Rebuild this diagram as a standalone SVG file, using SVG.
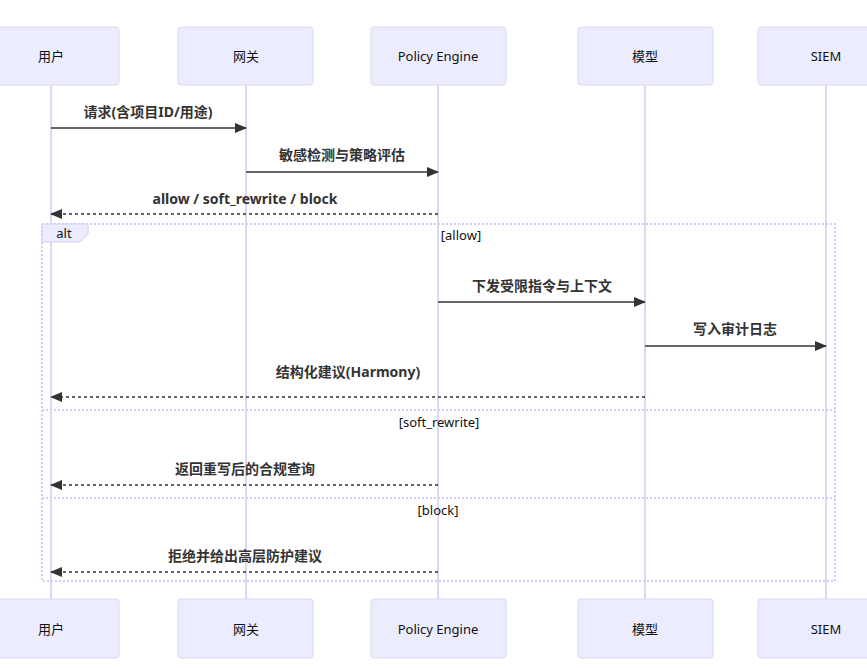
<svg xmlns="http://www.w3.org/2000/svg" width="867" height="668" viewBox="0 0 867 668">
<style>
.actor{fill:#ECECFF;stroke:#ddd7f4;stroke-width:1}
.atext{font-family:"Noto Sans","Noto Sans CJK SC",sans-serif;font-size:13px;fill:#111;text-anchor:middle;dominant-baseline:central}
.life{stroke:#ddd7f4;stroke-width:2}
.msg{stroke:#333;stroke-width:1.5;fill:none}
.dash{stroke-dasharray:3,3}
.mtext{font-family:"Noto Sans","Noto Sans CJK SC",sans-serif;font-size:14px;font-weight:bold;fill:#333;text-anchor:middle}
.loop{fill:none;stroke:#d4ccf2;stroke-width:2;stroke-dasharray:2,2}
.ltext{font-family:"Noto Sans","Noto Sans CJK SC",sans-serif;font-size:13px;fill:#111;text-anchor:middle}
</style>
<defs>
<marker id="arrow" viewBox="0 0 12 10" refX="11" refY="5" markerWidth="12" markerHeight="10" markerUnits="userSpaceOnUse" orient="auto-start-reverse">
<path d="M0,0 L12,5 L0,10 z" fill="#333"/>
</marker>
</defs>
<rect width="867" height="668" fill="#fff"/>
<g id="lifelines">
<line class="life" x1="51" y1="85" x2="51" y2="599"/>
<line class="life" x1="246" y1="85" x2="246" y2="599"/>
<line class="life" x1="438" y1="85" x2="438" y2="599"/>
<line class="life" x1="645" y1="85" x2="645" y2="599"/>
<line class="life" x1="826" y1="85" x2="826" y2="599"/>
</g>
<g id="alt-frame">
<rect class="loop" x="42" y="224" width="793" height="357"/>
<path d="M42,224 L88,224 L88,234 L80,242 L42,242 Z" fill="#ECECFF" stroke="#d4ccf2" stroke-width="1"/>
<text class="ltext" x="64" y="238">alt</text>
<text class="ltext" x="461" y="240">[allow]</text>
<line class="loop" x1="42" y1="410" x2="835" y2="410"/>
<text class="ltext" x="439" y="427">[soft_rewrite]</text>
<line class="loop" x1="42" y1="498" x2="835" y2="498"/>
<text class="ltext" x="438" y="515">[block]</text>
</g>
<g id="actor-user-top"><rect class="actor" x="-17" y="27" width="136" height="58" rx="3"/><text class="atext" x="51" y="56">用户</text></g>
<g id="actor-gw-top"><rect class="actor" x="178" y="27" width="135" height="58" rx="3"/><text class="atext" x="246" y="56">网关</text></g>
<g id="actor-pe-top"><rect class="actor" x="371" y="27" width="135" height="58" rx="3"/><text class="atext" x="438" y="56">Policy Engine</text></g>
<g id="actor-model-top"><rect class="actor" x="578" y="27" width="135" height="58" rx="3"/><text class="atext" x="645" y="56">模型</text></g>
<g id="actor-siem-top"><rect class="actor" x="758" y="27" width="135" height="58" rx="3"/><text class="atext" x="826" y="56">SIEM</text></g>
<g id="actor-user-bottom"><rect class="actor" x="-17" y="599" width="136" height="59" rx="3"/><text class="atext" x="51" y="629">用户</text></g>
<g id="actor-gw-bottom"><rect class="actor" x="178" y="599" width="135" height="59" rx="3"/><text class="atext" x="246" y="629">网关</text></g>
<g id="actor-pe-bottom"><rect class="actor" x="371" y="599" width="135" height="59" rx="3"/><text class="atext" x="438" y="629">Policy Engine</text></g>
<g id="actor-model-bottom"><rect class="actor" x="578" y="599" width="135" height="59" rx="3"/><text class="atext" x="645" y="629">模型</text></g>
<g id="actor-siem-bottom"><rect class="actor" x="758" y="599" width="135" height="59" rx="3"/><text class="atext" x="826" y="629">SIEM</text></g>
<g id="connectors">
<line class="msg" x1="51" y1="128" x2="246" y2="128" marker-end="url(#arrow)"/>
<text class="mtext" x="148" y="117">请求(含项目ID/用途)</text>
<line class="msg" x1="246" y1="172" x2="438" y2="172" marker-end="url(#arrow)"/>
<text class="mtext" x="342" y="160">敏感检测与策略评估</text>
<line class="msg dash" x1="438" y1="214" x2="51" y2="214" marker-end="url(#arrow)"/>
<text class="mtext" x="245" y="204">allow / soft_rewrite / block</text>
<line class="msg" x1="438" y1="302" x2="645" y2="302" marker-end="url(#arrow)"/>
<text class="mtext" x="542" y="291">下发受限指令与上下文</text>
<line class="msg" x1="645" y1="346" x2="826" y2="346" marker-end="url(#arrow)"/>
<text class="mtext" x="735" y="334">写入审计日志</text>
<line class="msg dash" x1="645" y1="397" x2="51" y2="397" marker-end="url(#arrow)"/>
<text class="mtext" x="348" y="377">结构化建议(Harmony)</text>
<line class="msg dash" x1="438" y1="485" x2="51" y2="485" marker-end="url(#arrow)"/>
<text class="mtext" x="245" y="474">返回重写后的合规查询</text>
<line class="msg dash" x1="438" y1="572" x2="51" y2="572" marker-end="url(#arrow)"/>
<text class="mtext" x="245" y="561">拒绝并给出高层防护建议</text>
</g>
</svg>
